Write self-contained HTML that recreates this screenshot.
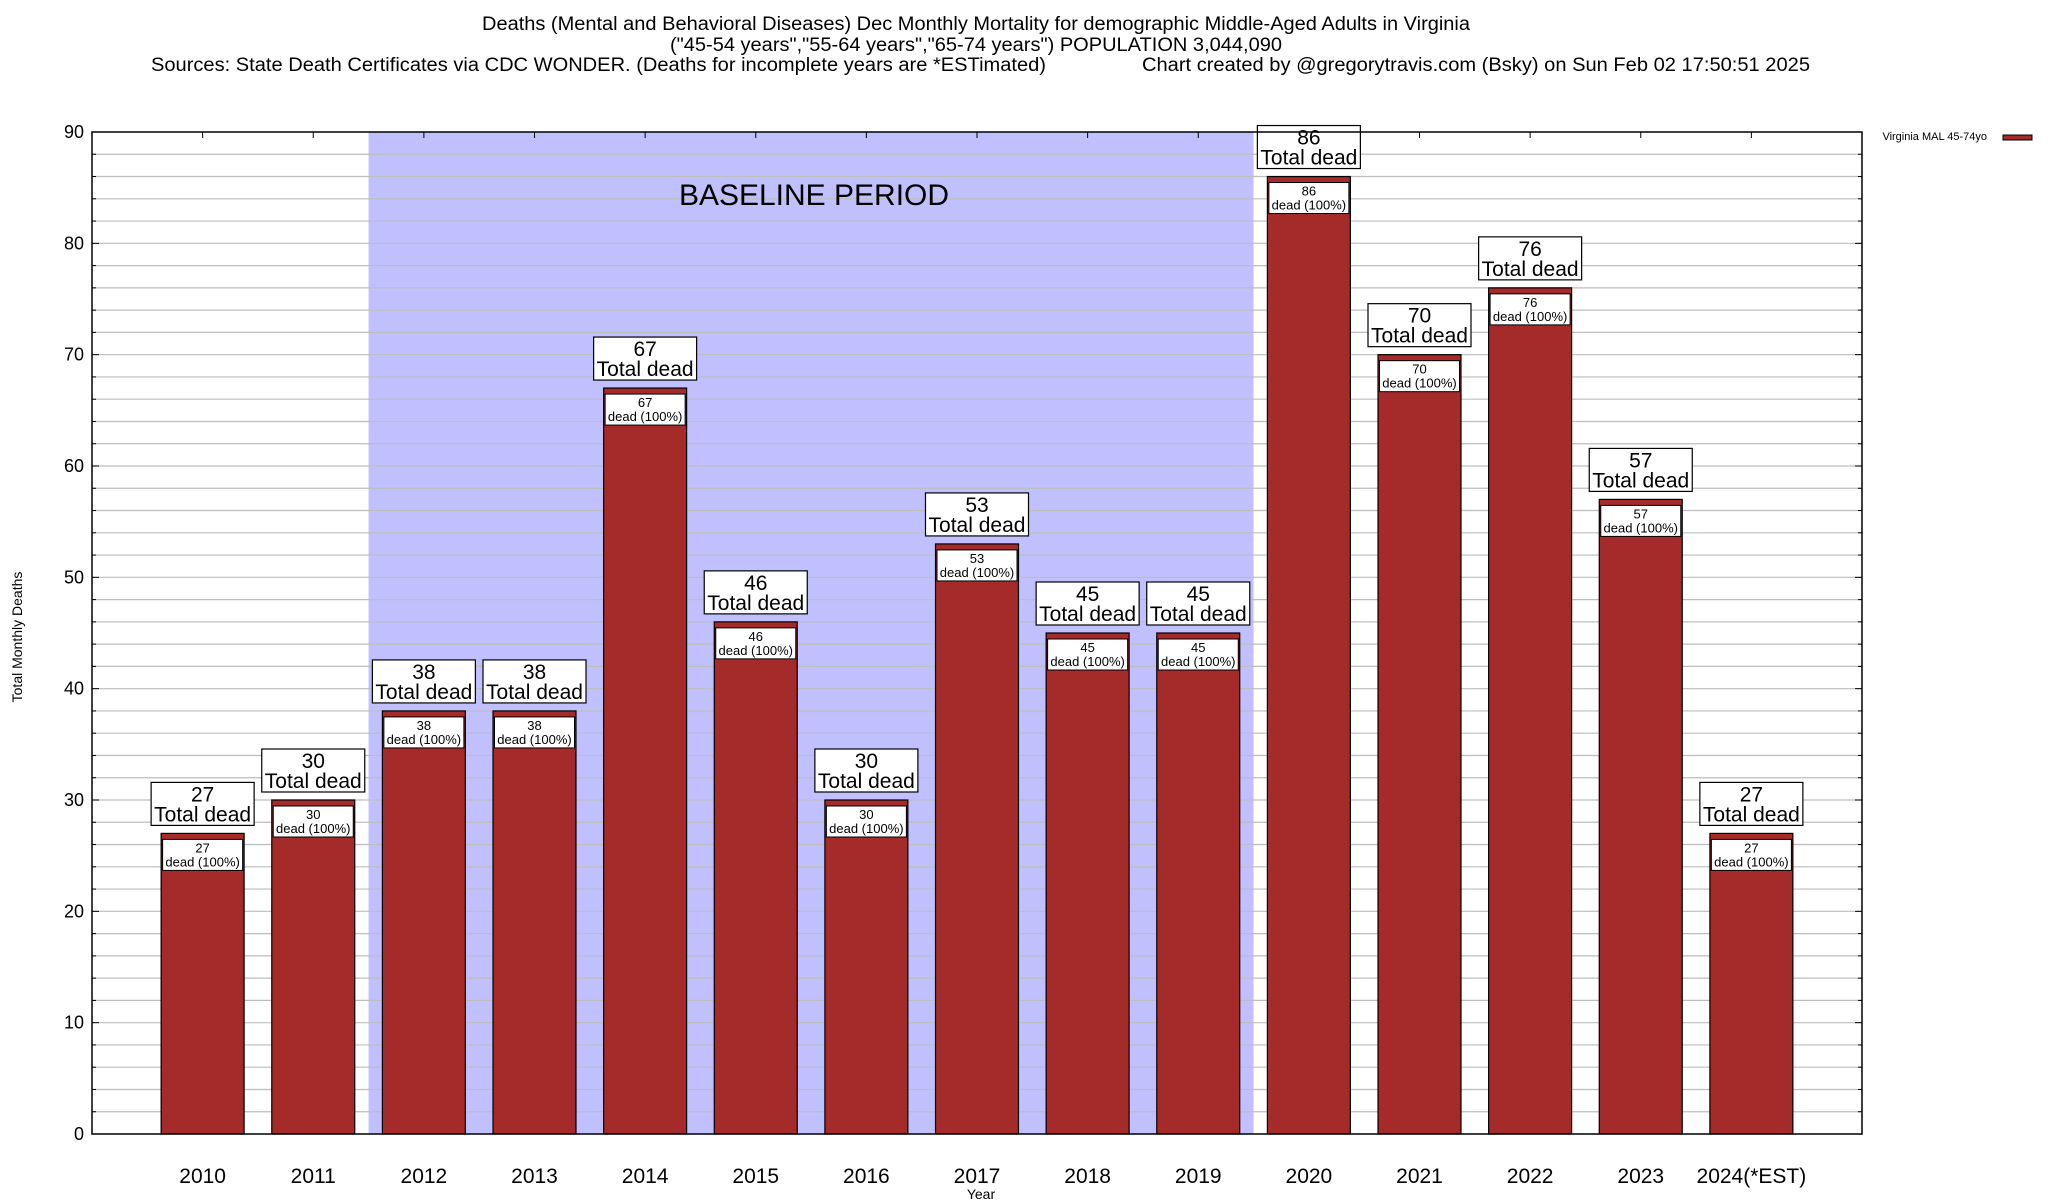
<!DOCTYPE html>
<html><head><meta charset="utf-8"><style>
html,body{margin:0;padding:0;background:#fff;}
svg{display:block;font-family:"Liberation Sans",sans-serif;}
</style></head><body>
<svg id="chart" width="2048" height="1200" viewBox="0 0 2048 1200" xmlns="http://www.w3.org/2000/svg">
<g font-size="19" fill="#000">
<text x="976" y="30" text-anchor="middle" textLength="988" lengthAdjust="spacingAndGlyphs">Deaths (Mental and Behavioral Diseases) Dec Monthly Mortality for demographic Middle-Aged Adults in Virginia</text>
<text x="976" y="51" text-anchor="middle" textLength="612" lengthAdjust="spacingAndGlyphs">("45-54 years","55-64 years","65-74 years") POPULATION 3,044,090</text>
<text x="151" y="71" textLength="895" lengthAdjust="spacingAndGlyphs">Sources: State Death Certificates via CDC WONDER. (Deaths for incomplete years are *ESTimated)</text>
<text x="1142" y="71" textLength="668" lengthAdjust="spacingAndGlyphs">Chart created by @gregorytravis.com (Bsky) on Sun Feb 02 17:50:51 2025</text>
</g>
<g id="plot"></g>
<text x="22" y="637" font-size="14" text-anchor="middle" transform="rotate(-90 22 637)">Total Monthly Deaths</text>
<text x="981" y="1199" font-size="14" text-anchor="middle">Year</text>
<g>
<text x="1987" y="140" font-size="11" text-anchor="end">Virginia MAL 45-74yo</text>
<rect x="2003" y="135" width="29" height="5" fill="#a52a2a" stroke="#000" stroke-width="1"/>
</g>
</svg>
<script>
const categories = ["2010","2011","2012","2013","2014","2015","2016","2017","2018","2019","2020","2021","2022","2023","2024(*EST)"];
const deaths = [27,30,38,38,67,46,30,53,45,45,86,70,76,57,27];
const yTicks = [0,10,20,30,40,50,60,70,80,90];
const baselineRange = [1.5, 9.5];

const NS = "http://www.w3.org/2000/svg";
const L=92, R=1862, T=132, B=1134;
const xMin=-1, xMax=15, yMin=0, yMax=90;
const xs = v => L + (v - xMin) * (R - L) / (xMax - xMin);
const ys = v => B - (v - yMin) * (B - T) / (yMax - yMin);
const plot = document.getElementById('plot');
function mk(tag, attrs, parent){ const e=document.createElementNS(NS,tag); for(const k in attrs) e.setAttribute(k,attrs[k]); (parent||plot).appendChild(e); return e; }

// baseline shading
const shade = mk('rect',{x:xs(baselineRange[0]),y:T,width:xs(baselineRange[1])-xs(baselineRange[0]),height:B-T,fill:'#c0c0ff'});



// gridlines every 2
for(let v=2; v<yMax; v+=2){
  const g = mk('line',{x1:L,x2:R,y1:ys(v),y2:ys(v),stroke:'#bdbdbd','stroke-width':1.2});
  
  
  const len = (v%10===0)?7:4;
  mk('line',{x1:L,x2:L+len,y1:ys(v),y2:ys(v),stroke:'#000','stroke-width':1});
  mk('line',{x1:R-len,x2:R,y1:ys(v),y2:ys(v),stroke:'#000','stroke-width':1});
}
const bl = mk('text',{x:814,y:205,'font-size':30,'text-anchor':'middle'});
bl.textContent='BASELINE PERIOD';



// y tick labels
yTicks.forEach(v=>{
  const t = mk('text',{x:84,y:ys(v)+6,'font-size':18,'text-anchor':'end'});
  t.textContent = v;
  
  
});

// bars
const bw = 0.75;
categories.forEach((c,i)=>{
  const cx = xs(i), v = deaths[i];
  const x0 = xs(i-bw/2), x1 = xs(i+bw/2), yt = ys(v);
  mk('line',{x1:cx,x2:cx,y1:T,y2:T+6,stroke:'#000','stroke-width':1});
  mk('line',{x1:cx,x2:cx,y1:B,y2:B-6,stroke:'#000','stroke-width':1});
  const bar = mk('rect',{x:x0,y:yt,width:x1-x0,height:B-yt,fill:'#a52a2a',stroke:'#000','stroke-width':1.2});
  
  
  // inner label
  const ib = mk('rect',{x:cx-40,y:yt+6,width:80,height:31,fill:'#fff',stroke:'#000','stroke-width':1});
  
  
  const t1 = mk('text',{x:cx,y:yt+19,'font-size':13,'text-anchor':'middle'}); t1.textContent=v;
  
  
  const t2 = mk('text',{x:cx,y:yt+33,'font-size':13,'text-anchor':'middle'}); t2.textContent='dead (100%)';
  
  
  // top label
  const tb = mk('rect',{x:cx-51.5,y:yt-51,width:103,height:43,fill:'#fff',stroke:'#000','stroke-width':1.2});
  
  
  const t3 = mk('text',{x:cx,y:yt-32,'font-size':21,'text-anchor':'middle'}); t3.textContent=v;
  
  
  const t4 = mk('text',{x:cx,y:yt-12,'font-size':21,'text-anchor':'middle'}); t4.textContent='Total dead';
  
  
  // x label
  const xl = mk('text',{x:cx,y:1183,'font-size':21,'text-anchor':'middle'}); xl.textContent=c;
  
  
});
const frame = mk('rect',{x:L,y:T,width:R-L,height:B-T,fill:'none',stroke:'#000','stroke-width':1.5});


</script>
</body></html>
